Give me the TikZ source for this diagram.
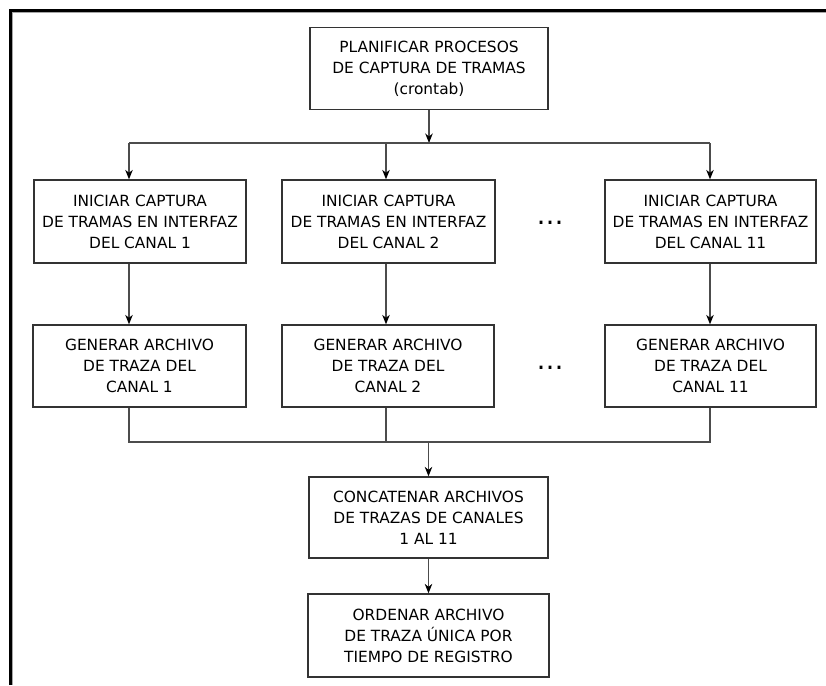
\documentclass[tikz,border=0pt]{standalone}
\usepackage{fontspec}
\setmainfont{DejaVu Sans}
\usetikzlibrary{arrows.meta}
\begin{document}
\begin{tikzpicture}[x=1pt,y=-1pt,
  every node/.style={font=\fontsize{15.4}{21}\selectfont},
  box/.style={draw=black!80,line width=1.3pt,rectangle,inner sep=0pt,
    align=center,minimum height=82pt},
  wire/.style={draw=black!70,line width=1.2pt},
  flow/.style={wire,-{Stealth[length=9.5pt,width=7.5pt,inset=3pt,black]}},
  dots/.style={anchor=base,font=\fontsize{27}{27}\selectfont}]
\useasboundingbox (0,0) rectangle (826,685);
% frame along the top and left edges
\draw[line width=3pt] (10.5,685) -- (10.5,10.5) -- (826,10.5);
\draw[gray!70,line width=1pt] (12.5,685) -- (12.5,12.5) -- (826,12.5);

% boxes
\node[box,minimum width=238pt] (plan) at (429,68.5)
  {PLANIFICAR PROCESOS\\DE CAPTURA DE TRAMAS\\(crontab)};
\node[box,minimum width=212pt,minimum height=83pt] (ini1) at (140,221.5)
  {INICIAR CAPTURA\\DE TRAMAS EN INTERFAZ\\DEL CANAL 1};
\node[box,minimum width=213pt,minimum height=83pt] (ini2) at (388.5,221.5)
  {INICIAR CAPTURA\\DE TRAMAS EN INTERFAZ\\DEL CANAL 2};
\node[box,minimum width=211pt,minimum height=83pt] (ini3) at (710.5,221.5)
  {INICIAR CAPTURA\\DE TRAMAS EN INTERFAZ\\DEL CANAL 11};
\node[box,minimum width=213pt] (gen1) at (139.5,366)
  {GENERAR ARCHIVO\\DE TRAZA DEL\\CANAL 1};
\node[box,minimum width=212pt] (gen2) at (388,366)
  {GENERAR ARCHIVO\\DE TRAZA DEL\\CANAL 2};
\node[box,minimum width=211pt] (gen3) at (710.5,366)
  {GENERAR ARCHIVO\\DE TRAZA DEL\\CANAL 11};
\node[box,minimum width=239pt,minimum height=81pt] (cat) at (428.5,517.5)
  {CONCATENAR ARCHIVOS\\DE TRAZAS DE CANALES\\1 AL 11};
\node[box,minimum width=241pt,minimum height=83pt] (ord) at (428.5,635.5)
  {ORDENAR ARCHIVO\\DE TRAZA ÚNICA POR\\TIEMPO DE REGISTRO};

% ellipses between channel 2 and channel 11
\node[dots] (dotsA) at (550,224) {…};
\node[dots] (dotsB) at (550,369) {…};

% distribution bus
\coordinate (busc) at (429,143);
\coordinate (s1) at (129,143);
\coordinate (s2) at (386,143);
\coordinate (s3) at (710,143);
\draw[flow] (plan.south) -- (busc);
\draw[wire] (s1) -- (s3);
\draw[flow] (s1) -- (s1 |- ini1.north);
\draw[flow] (s2) -- (s2 |- ini2.north);
\draw[flow] (s3) -- (s3 |- ini3.north);

% capture to trace file
\draw[flow] (s1 |- ini1.south) -- (s1 |- gen1.north);
\draw[flow] (s2 |- ini2.south) -- (s2 |- gen2.north);
\draw[flow] (s3 |- ini3.south) -- (s3 |- gen3.north);

% merge bus
\coordinate (m1) at (129,442);
\coordinate (m2) at (386,442);
\coordinate (m3) at (710,442);
\coordinate (mc) at (428.5,442);
\draw[wire] (s1 |- gen1.south) -- (m1) -- (m3) -- (s3 |- gen3.south);
\draw[wire] (s2 |- gen2.south) -- (m2);
\draw[flow] (mc) -- (mc |- cat.north);
\draw[flow] (cat.south) -- (ord.north);
\end{tikzpicture}
\end{document}
